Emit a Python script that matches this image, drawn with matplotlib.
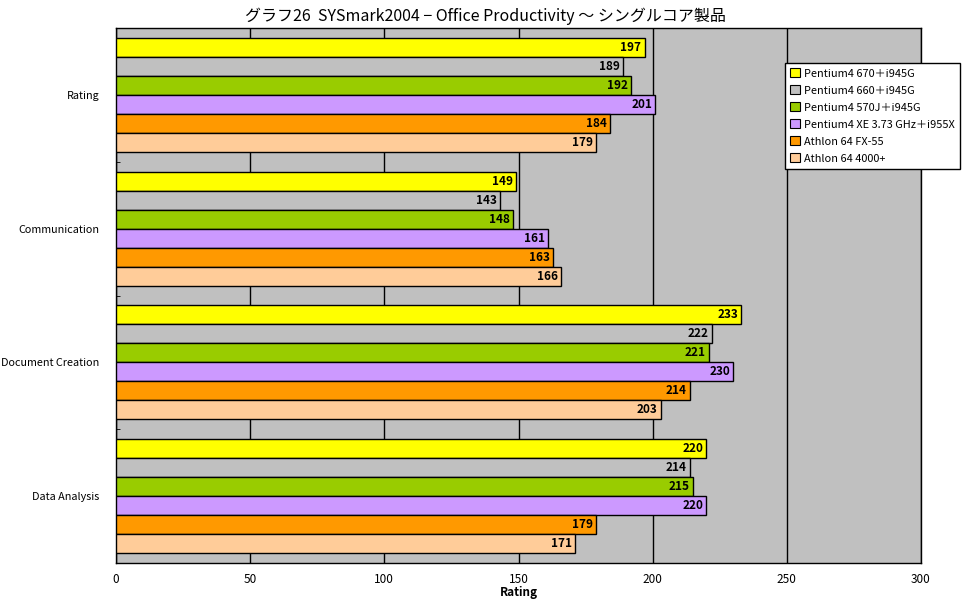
import numpy as np
import matplotlib
matplotlib.use('Agg')
import matplotlib.pyplot as plt

plt.rcParams['font.family'] = ['Noto Sans CJK JP', 'DejaVu Sans']

categories = ['Rating', 'Communication', 'Document Creation', 'Data Analysis']
series_names = ['Pentium4 670＋i945G', 'Pentium4 660＋i945G', 'Pentium4 570J＋i945G',
                'Pentium4 XE 3.73 GHz＋i955X', 'Athlon 64 FX-55', 'Athlon 64 4000+']
colors = ['#FFFF00', '#C0C0C0', '#99CC00', '#CC99FF', '#FF9900', '#FFCC99']

p4_670 = [197, 149, 233, 220]
p4_660 = [189, 143, 222, 214]
p4_570j = [192, 148, 221, 215]
p4_xe = [201, 161, 230, 220]
fx55 = [184, 163, 214, 179]
a64_4000 = [179, 166, 203, 171]
series = [p4_670, p4_660, p4_570j, p4_xe, fx55, a64_4000]

xticks = [0, 50, 100, 150, 200, 250, 300]
title = 'グラフ26  SYSmark2004 − Office Productivity ～ シングルコア製品'

fig = plt.figure(figsize=(9.7, 6.04), dpi=100)
ax = fig.add_axes([116/970, 1 - 563/604, 805/970, 535/604])
ax.set_facecolor('#C0C0C0')

h = 0.142
ypos = np.arange(len(categories))
for j, (name, vals, col) in enumerate(zip(series_names, series, colors)):
    y = ypos + (j - 2.5) * h
    ax.barh(y, vals, height=h, color=col, edgecolor='black', linewidth=1.0,
            label=name, zorder=3)
    for yy, v in zip(y, vals):
        ax.text(v - 1.2, yy, str(v), ha='right', va='center', fontsize=8.5,
                fontweight='bold', zorder=4)

ax.set_xlim(0, 300)
ax.set_ylim(len(categories) - 0.5, -0.5)
ax.set_xticks(xticks)
ax.set_xticklabels([str(t) for t in xticks], fontsize=8.5)
ax.xaxis.grid(True, color='black', linewidth=1.0, zorder=1)
ax.set_axisbelow(True)
ax.tick_params(axis='x', length=0, pad=7)

ax.set_yticks(ypos)
ax.set_yticklabels(categories, fontsize=7.8)
ax.tick_params(axis='y', which='major', length=0, pad=12)
ax.set_yticks(np.arange(0.5, len(categories) - 0.5, 1.0), minor=True)
ax.tick_params(axis='y', which='minor', length=3, direction='in', color='black')

for s in ax.spines.values():
    s.set_color('black')
    s.set_linewidth(1.0)

ax.set_xlabel('Rating', fontsize=8.5, fontweight='bold', labelpad=0)
fig.suptitle(title, fontsize=11.5, y=1 - 16/604, va='center')

leg = ax.legend(loc='upper left', bbox_to_anchor=(785/970, 1 - 63/604),
                bbox_transform=fig.transFigure, fontsize=7.9, frameon=True,
                fancybox=False, edgecolor='black', framealpha=1,
                handlelength=0.85, handleheight=0.85, handletextpad=0.4,
                labelspacing=0.62, borderpad=0.5, borderaxespad=0)
leg.get_frame().set_linewidth(1.0)
for p in leg.get_patches():
    p.set_linewidth(0.8)

fig.savefig('out.png', dpi=100, facecolor='white')
